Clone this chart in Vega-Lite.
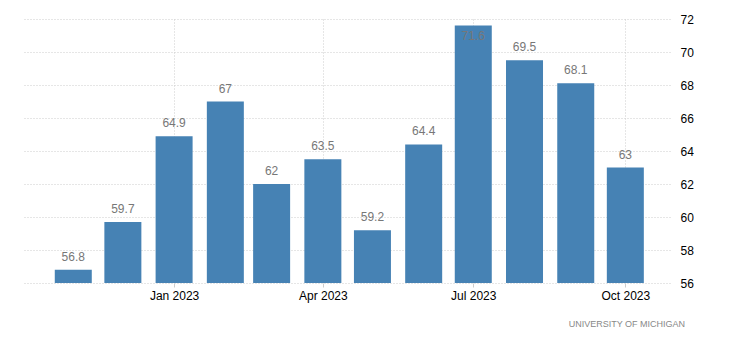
{
  "$schema": "https://vega.github.io/schema/vega-lite/v6.json",
  "width": 648,
  "height": 264,
  "padding": {"left": 22, "top": 13, "right": 0, "bottom": 0},
  "background": "white",
  "config": {"view": {"stroke": null}, "font": "Liberation Sans"},
  "title": {
    "text": "UNIVERSITY OF MICHIGAN",
    "orient": "bottom",
    "anchor": "end",
    "frame": "group",
    "fontSize": 9,
    "fontWeight": "normal",
    "color": "#888888",
    "offset": 19,
    "dx": 15
  },
  "data": {
    "values": [
      {"date": "2022-11-01", "value": 56.8},
      {"date": "2022-12-01", "value": 59.7},
      {"date": "2023-01-01", "value": 64.9},
      {"date": "2023-02-01", "value": 67},
      {"date": "2023-03-01", "value": 62},
      {"date": "2023-04-01", "value": 63.5},
      {"date": "2023-05-01", "value": 59.2},
      {"date": "2023-06-01", "value": 64.4},
      {"date": "2023-07-01", "value": 71.6},
      {"date": "2023-08-01", "value": 69.5},
      {"date": "2023-09-01", "value": 68.1},
      {"date": "2023-10-01", "value": 63}
    ]
  },
  "encoding": {
    "x": {
      "field": "date",
      "type": "temporal",
      "scale": {
        "type": "utc",
        "domain": [
          {"year": 2022, "month": 10, "date": 4, "utc": true},
          {"year": 2023, "month": 10, "date": 25, "utc": true}
        ]
      },
      "axis": {
        "title": null,
        "values": [
          {"year": 2023, "month": 1, "date": 1, "utc": true},
          {"year": 2023, "month": 4, "date": 1, "utc": true},
          {"year": 2023, "month": 7, "date": 1, "utc": true},
          {"year": 2023, "month": 10, "date": 1, "utc": true}
        ],
        "labelExpr": "utcFormat(datum.value, '%b %Y')",
        "domain": false,
        "tickSize": 4,
        "tickColor": "#cccccc",
        "labelPadding": 3,
        "labelFontSize": 12,
        "labelColor": "#000000",
        "grid": true,
        "gridColor": "#cccccc",
        "gridDash": [1, 2],
        "labelFlush": false
      }
    },
    "y": {
      "field": "value",
      "type": "quantitative",
      "scale": {"domain": [56, 72], "zero": false, "nice": false},
      "axis": {
        "title": null,
        "orient": "right",
        "values": [56, 58, 60, 62, 64, 66, 68, 70, 72],
        "domain": false,
        "ticks": false,
        "labelPadding": 10,
        "labelFontSize": 12,
        "labelColor": "#000000",
        "gridColor": "#cccccc",
        "gridDash": [1, 2]
      }
    }
  },
  "layer": [
    {"mark": {"type": "bar", "color": "#4682B4", "width": 37, "clip": true}},
    {
      "transform": [{"filter": "datum.value < 71"}],
      "mark": {"type": "text", "baseline": "bottom", "dy": -6, "fontSize": 12, "color": "#777777"},
      "encoding": {"text": {"field": "value", "type": "quantitative"}}
    },
    {
      "transform": [{"filter": "datum.value >= 71"}],
      "mark": {"type": "text", "baseline": "top", "dy": 5, "fontSize": 12, "color": "#777777"},
      "encoding": {"text": {"field": "value", "type": "quantitative"}}
    }
  ]
}
